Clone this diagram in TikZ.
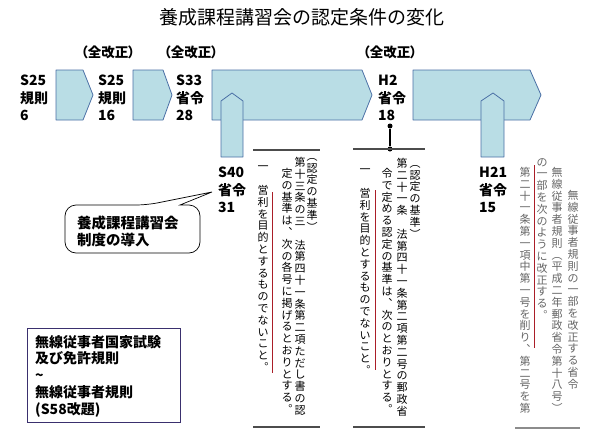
\documentclass[tikz,border=0pt]{standalone}
\usepackage{fontspec}
\setmainfont{Noto Sans CJK JP}
\newfontfamily\paltfont[RawFeature=+palt]{Noto Sans CJK JP}
\definecolor{ribbon}{RGB}{185,221,229}
\definecolor{ribbonedge}{RGB}{74,111,165}
\definecolor{memoedge}{RGB}{58,48,110}
\definecolor{akasen}{RGB}{170,30,40}

% one character per line, top to bottom
\makeatletter
\newlength\tatepitch
\setlength\tatepitch{11.8pt}
\newcommand\tategaki[1]{\vbox{\baselineskip=\tatepitch\lineskiplimit=-\maxdimen\lineskip=0pt
  \@tfor\tate@c:=#1\do{\hbox to 1em{\hss\tate@c\hss}}}}
\makeatother

\tikzset{
  ribbon/.style={draw=ribbonedge, fill=ribbon, line width=0.8pt, line join=round},
  rei/.style={font=\bfseries\fontsize{14}{17.5}\selectfont, align=left, anchor=north west, inner sep=0pt},
  kaisei/.style={font=\paltfont\bfseries\fontsize{13.5}{16}\selectfont, inner sep=0pt},
  tate/.style={font=\fontsize{11}{12}\selectfont, anchor=north, inner sep=0pt},
  scanrule/.style={draw=black!70, line width=1.5pt},
}

\begin{document}
\begin{tikzpicture}[x=1pt,y=-1pt]
\useasboundingbox (0,0) rectangle (600,434);
\node[font=\fontsize{19}{22}\selectfont] (title) at (302,17) {養成課程講習会の認定条件の変化};

% period ribbons
\draw[ribbon] (56,70) -- (83,70) -- (93,95) -- (83,120) -- (56,120) -- cycle;
\draw[ribbon] (133,70) -- (163,70) -- (172,95) -- (163,120) -- (133,120) -- cycle;
\draw[ribbon] (212,70) -- (362,70) -- (372,95) -- (362,120) -- (212,120) -- cycle;
\draw[ribbon] (413,70) -- (530,70) -- (541,95) -- (530,120) -- (413,120) -- cycle;
\draw[ribbon] (221,157) -- (221,101) -- (232,93) -- (243,101) -- (243,157) -- cycle;
\draw[ribbon] (481,157) -- (481,101) -- (493,93) -- (504,101) -- (504,157) -- cycle;

\node[kaisei] (k1) at (108,52) {（全改正）};
\node[kaisei] (k2) at (191,52) {（全改正）};
\node[kaisei] (k3) at (390,52) {（全改正）};

\node[rei] (s25a) at (20,75) {S25\\規則\\6};
\node[rei] (s25b) at (98,75) {S25\\規則\\16};
\node[rei] (s33) at (176,75) {S33\\省令\\28};
\node[rei] (h2) at (378,75) {H2\\省令\\18};
\node[rei] (s40) at (218,167) {S40\\省令\\31};
\node[rei] (h21) at (479,167) {H21\\省令\\15};

% pin from H2
\node[circle, fill=black, inner sep=0pt, minimum size=5pt] (pin) at (390,126) {};
\node[circle, fill=black, inner sep=0pt, minimum size=5pt] (pinfoot) at (390,149) {};
\draw[line width=1.5pt] (pin) -- (pinfoot);

% callout
\draw[fill=white, line width=0.7pt, rounded corners=11pt] (180,205) -- (200,205) -- (200,253) -- (65,253) -- (65,205) -- (147,205) [sharp corners] -- (212,192) -- cycle;
\node[rei, font=\bfseries\fontsize{14.5}{16.5}\selectfont] (dounyu) at (77,216) {養成課程講習会\\制度の導入};

% S40 text
\draw[scanrule] (253,150) -- (320,150);
\draw[scanrule] (253,427) -- (320,427);
\node[tate] (a1) at (312,158) {\tategaki{︵認定の基準︶}};
\node[tate] (a2) at (300,157) {\tategaki{第十三条の三{　}法第四十一条第二項ただし書の認}};
\node[tate] (a3) at (287,168) {\tategaki{定の基準は︑次の各号に掲げるとおりとする︒}};
\node[tate] (a4) at (263,166) {\tategaki{一{　}営利を目的とするものでないこと︒}};
\draw[akasen, line width=0.8pt] (272,192) -- (272,373);

% H2 text
\draw[scanrule] (353,149) -- (425,149);
\draw[scanrule] (353,427) -- (425,427);
\node[tate] (b1) at (415,165) {\tategaki{︵認定の基準︶}};
\node[tate] (b2) at (402,158) {\tategaki{第二十一条{　}法第四十一条第二項第二号の郵政省}};
\node[tate] (b3) at (387,168) {\tategaki{令で定める認定の基準は︑次のとおりとする︒}};
\node[tate] (b4) at (365,169) {\tategaki{一{　}営利を目的とするものでないこと︒}};
\draw[akasen, line width=0.8pt] (375,190) -- (375,370);

% H21 text
\begin{scope}[every node/.style={tate, text=black!60}]
\node (c1) at (573,190) {\tategaki{無線従事者規則の一部を改正する省令}};
\node (c2) at (557,167) {\tategaki{無線従事者規則︵平成二年郵政省令第十八号︶}};
\node (c3) at (542,158) {\tategaki{の一部を次のように改正する︒}};
\node (c4) at (525,167) {\tategaki{第二十一条第一項中第一号を削り︑第二号を第}};
\end{scope}
\draw[akasen, line width=0.8pt] (534,165) -- (534,348);
\draw[black!45, line width=1.2pt] (515,428) -- (580,428);

% renamed rules
\draw[memoedge, line width=0.8pt] (27,328) rectangle (180,422);
\node[rei, font=\bfseries\fontsize{14}{16.75}\selectfont] (kaidai) at (35,335) {無線従事者国家試験\\及び免許規則\\\textasciitilde\\無線従事者規則\\(S58改題)};
\end{tikzpicture}
\end{document}
